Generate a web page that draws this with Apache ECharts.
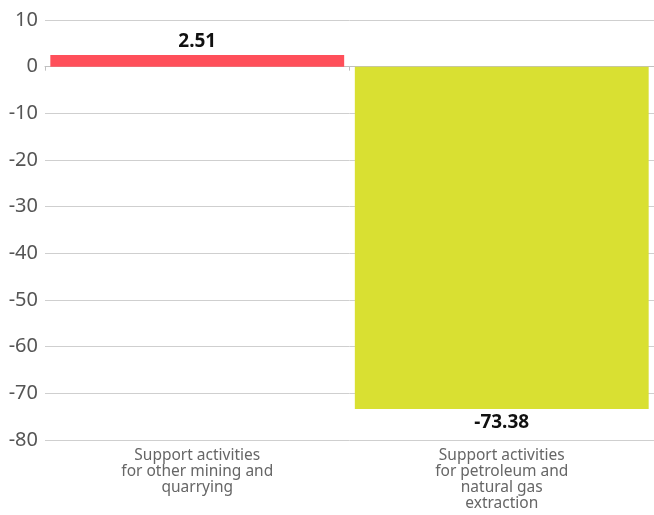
<!DOCTYPE html>
<html>
<head>
<meta charset="utf-8">
<script src="https://cdn.jsdelivr.net/npm/echarts@6/dist/echarts.min.js"></script>
<style>
  html, body { margin: 0; padding: 0; background: #fff; }
  #chart { width: 654px; height: 515px; }
</style>
</head>
<body>
<div id="chart"></div>
<script>
// data
var categories = [
    'Support activities\nfor other mining and\nquarrying',
    'Support activities\nfor petroleum and\nnatural gas\nextraction'
];
var values = [2.51, -73.38];
var barColors = ['#ff4f5a', '#d9e032'];

var myChart = echarts.init(document.getElementById('chart'));
var option = {
    animation: false,
    grid: {
        left: 45,
        right: 0,
        top: 20,
        bottom: 75
    },
    xAxis: {
        type: 'category',
        data: categories,
        axisLine: { onZero: true, lineStyle: { color: '#c0c0c0' } },
        axisTick: { show: true, length: 4, lineStyle: { color: '#c0c0c0' } },
        axisLabel: {
            color: '#666',
            fontFamily: 'Noto Sans',
            fontSize: 15.5,
            lineHeight: 16,
            margin: 8,
            interval: 0
        }
    },
    yAxis: {
        type: 'value',
        min: -80,
        max: 10,
        interval: 10,
        axisLine: { show: false },
        axisTick: { show: false },
        splitLine: { lineStyle: { color: '#cfcfcf' } },
        axisLabel: {
            color: '#555',
            fontFamily: 'Noto Sans',
            fontSize: 20,
            margin: 7
        }
    },
    series: [{
        type: 'bar',
        barCategoryGap: '3.5%',
        data: values.map(function (v, i) {
            return {
                value: v,
                itemStyle: { color: barColors[i] },
                label: { position: v >= 0 ? 'top' : 'bottom' }
            };
        }),
        label: {
            show: true,
            color: '#111',
            fontFamily: 'Noto Sans',
            fontWeight: 'bold',
            fontSize: 19,
            distance: 4,
            formatter: function (p) { return p.value.toFixed(2); }
        }
    }]
};
myChart.setOption(option);
</script>
</body>
</html>
